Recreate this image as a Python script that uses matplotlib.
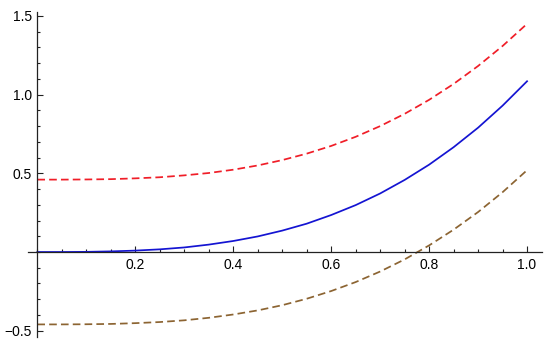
import matplotlib
matplotlib.use("Agg")
import matplotlib.pyplot as plt
import matplotlib.ticker as ticker

# values
x = [0.0, 0.05, 0.1, 0.15, 0.2, 0.25, 0.3, 0.35, 0.4, 0.45, 0.5,
     0.55, 0.6, 0.65, 0.7, 0.75, 0.8, 0.85, 0.9, 0.95, 1.0]
middle = [0.0, 0.0001, 0.001, 0.004, 0.009, 0.017, 0.029, 0.047, 0.07, 0.099, 0.136,
          0.18, 0.235, 0.298, 0.372, 0.458, 0.555, 0.666, 0.79, 0.93, 1.085]
upper = [0.46, 0.46, 0.461, 0.463, 0.468, 0.475, 0.487, 0.502, 0.523, 0.55, 0.584,
         0.625, 0.674, 0.732, 0.8, 0.878, 0.967, 1.068, 1.182, 1.309, 1.45]
lower = [-0.46, -0.46, -0.459, -0.457, -0.452, -0.445, -0.434, -0.418, -0.397, -0.371, -0.338,
         -0.297, -0.248, -0.191, -0.124, -0.047, 0.042, 0.142, 0.254, 0.38, 0.52]

x_ticks = [0.2, 0.4, 0.6, 0.8, 1.0]
y_ticks = [-0.5, 0.5, 1.0, 1.5]

plt.rcParams["font.family"] = ["Liberation Sans", "DejaVu Sans"]
plt.rcParams["lines.scale_dashes"] = False
plt.rcParams["axes.unicode_minus"] = True

fig = plt.figure(figsize=(5.5, 3.43), dpi=100)
ax = fig.add_axes([0.051, 0.0175, 0.934, 0.9475])

ax.plot(x, upper, color="#f01e28", lw=1.25, dashes=(5.5, 3))
ax.plot(x, middle, color="#1414d2", lw=1.25)
ax.plot(x, lower, color="#8c6432", lw=1.25, dashes=(5.5, 3))

ax.set_xlim(-0.019, 1.03)
ax.set_ylim(-0.54, 1.525)

for side in ["top", "right"]:
    ax.spines[side].set_visible(False)
ax.spines["left"].set_position(("data", 0))
ax.spines["bottom"].set_position(("data", 0))
for side in ["left", "bottom"]:
    ax.spines[side].set_linewidth(0.9)
    ax.spines[side].set_color("#222222")

ax.xaxis.set_major_locator(ticker.FixedLocator(x_ticks))
ax.xaxis.set_minor_locator(ticker.MultipleLocator(0.05))
ax.yaxis.set_major_locator(ticker.FixedLocator(y_ticks))
ax.yaxis.set_minor_locator(ticker.MultipleLocator(0.1))
ax.xaxis.set_major_formatter(ticker.FormatStrFormatter("%.1f"))
ax.yaxis.set_major_formatter(ticker.FuncFormatter(lambda v, p: f"{v:.1f}".replace("-", "\u2212")))

ax.tick_params(which="both", direction="in", color="#222222", width=0.8, labelsize=10)
ax.tick_params(which="major", length=4, pad=4)
ax.tick_params(which="minor", length=2.5)

fig.savefig("out.png", dpi=100)
